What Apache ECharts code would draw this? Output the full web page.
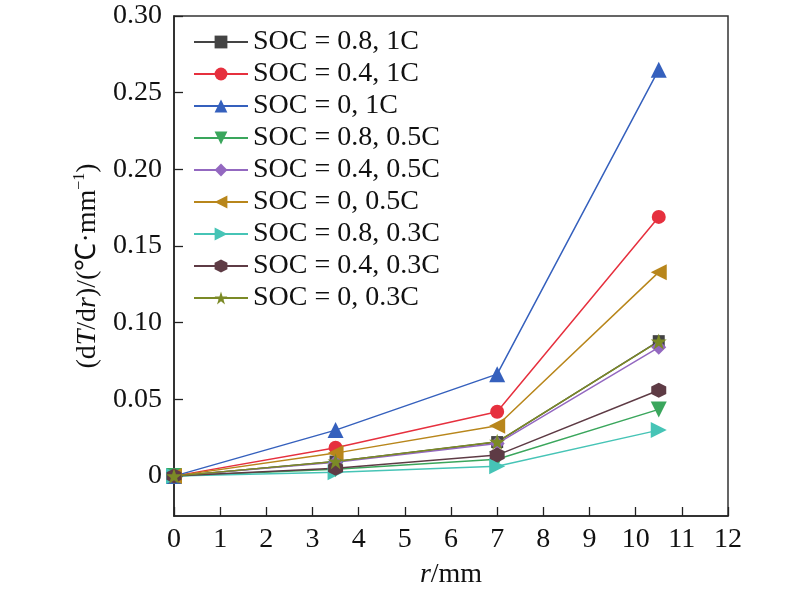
<!DOCTYPE html>
<html>
<head>
<meta charset="utf-8">
<script src="https://cdn.jsdelivr.net/npm/echarts@6/dist/echarts.min.js"></script>
<style>
  html, body { margin: 0; padding: 0; background: #fff; }
  #main { width: 800px; height: 590px; }
</style>
</head>
<body>
<div id="main"></div>
<script>
// r positions (mm)
var r = [0, 3.5, 7, 10.5];

// dT/dr values, one array per case
var soc08_1C = [0, 0.0095, 0.0222, 0.088];
var soc04_1C = [0, 0.0185, 0.042, 0.169];
var soc0_1C = [0, 0.030, 0.0665, 0.265];
var soc08_05C = [0, 0.0045, 0.011, 0.0435];
var soc04_05C = [0, 0.0090, 0.0212, 0.084];
var soc0_05C = [0, 0.015, 0.0328, 0.133];
var soc08_03C = [0, 0.0025, 0.0065, 0.030];
var soc04_03C = [0, 0.0052, 0.0137, 0.056];
var soc0_03C = [0, 0.0096, 0.0224, 0.0878];

var names = ['SOC = 0.8, 1C', 'SOC = 0.4, 1C', 'SOC = 0, 1C',
             'SOC = 0.8, 0.5C', 'SOC = 0.4, 0.5C', 'SOC = 0, 0.5C',
             'SOC = 0.8, 0.3C', 'SOC = 0.4, 0.3C', 'SOC = 0, 0.3C'];
var values = [soc08_1C, soc04_1C, soc0_1C, soc08_05C, soc04_05C, soc0_05C, soc08_03C, soc04_03C, soc0_03C];
var colors = ['#444444', '#e6303e', '#3560bd', '#3aa65c', '#9368c0', '#b8861b', '#46c4b6', '#5e3b45', '#7b8a26'];

var hexagon = 'path://M50,0 L93.3,25 L93.3,75 L50,100 L6.7,75 L6.7,25 Z';
var star = 'path://M50,0 L61.8,35.5 L99,35.5 L69,57.5 L80.4,93 L50,71 L19.6,93 L31,57.5 L1,35.5 L38.2,35.5 Z';
var symbols = ['rect', 'circle', 'triangle', 'triangle', 'diamond', 'triangle', 'triangle', hexagon, star];
var rotates = [0, 0, 0, 180, 0, 90, -90, 0, 0];
var sizes = [12, 14, 16, 16, 15, 16, 16, 15, 16];

var serif = "'Liberation Serif', 'Times New Roman', serif";

var series = [];
for (var i = 0; i < names.length; i++) {
  var pts = [];
  for (var j = 0; j < r.length; j++) pts.push([r[j], values[i][j]]);
  series.push({
    name: names[i],
    type: 'line',
    data: pts,
    symbol: symbols[i],
    symbolRotate: rotates[i],
    symbolSize: sizes[i],
    lineStyle: { color: colors[i], width: 1.5 },
    itemStyle: { color: colors[i] },
    animation: false
  });
}

var chart = echarts.init(document.getElementById('main'));
chart.setOption({
  backgroundColor: '#fff',
  textStyle: { fontFamily: serif },
  grid: {
    left: 174, right: 72, top: 16, bottom: 74,
    outerBoundsMode: 'none',
    show: true, borderColor: '#333', borderWidth: 1.5
  },
  legend: {
    orient: 'vertical',
    left: 188,
    top: 23,
    itemWidth: 54,
    itemHeight: 16,
    itemGap: 4,
    textStyle: { fontFamily: serif, fontSize: 28, color: '#111', lineHeight: 28 },
    data: names
  },
  xAxis: {
    type: 'value',
    min: 0,
    max: 12,
    interval: 1,
    name: '{i|r}{n|/mm}',
    nameLocation: 'middle',
    nameGap: 45,
    nameMoveOverlap: false,
    nameTextStyle: {
      rich: {
        i: { fontFamily: serif, fontStyle: 'italic', fontSize: 28, color: '#111' },
        n: { fontFamily: serif, fontSize: 28, color: '#111' }
      }
    },
    axisLine: { onZero: false, lineStyle: { color: '#222', width: 1.5 } },
    axisTick: { inside: true, length: 9, lineStyle: { color: '#222', width: 1.3 } },
    axisLabel: { fontFamily: serif, fontSize: 28, color: '#111', margin: 10 },
    splitLine: { show: false }
  },
  yAxis: {
    type: 'value',
    min: -0.026,
    max: 0.3,
    splitNumber: 6,
    name: '{n|(d}{i|T}{n|/d}{i|r}{n|)/(℃·mm}{s|−1}{n|)}',
    nameLocation: 'middle',
    nameGap: 48,
    nameRotate: 90,
    nameTextStyle: {
      rich: {
        n: { fontFamily: serif, fontSize: 28, color: '#111', lineHeight: 32 },
        i: { fontFamily: serif, fontStyle: 'italic', fontSize: 28, color: '#111', lineHeight: 32 },
        s: { fontFamily: serif, fontSize: 16, color: '#111', verticalAlign: 'top', lineHeight: 32 }
      }
    },
    axisLine: { onZero: false, lineStyle: { color: '#222', width: 1.5 } },
    axisTick: { inside: true, length: 9, lineStyle: { color: '#222', width: 1.3 } },
    axisLabel: {
      fontFamily: serif,
      fontSize: 28,
      color: '#111',
      margin: 12,
      showMinLabel: false,
      formatter: function (v) {
        if (Math.abs(v) < 1e-9) return '0';
        if (v < 0) return '';
        return v.toFixed(2);
      }
    },
    splitLine: { show: false }
  },
  series: series
});
</script>
</body>
</html>
